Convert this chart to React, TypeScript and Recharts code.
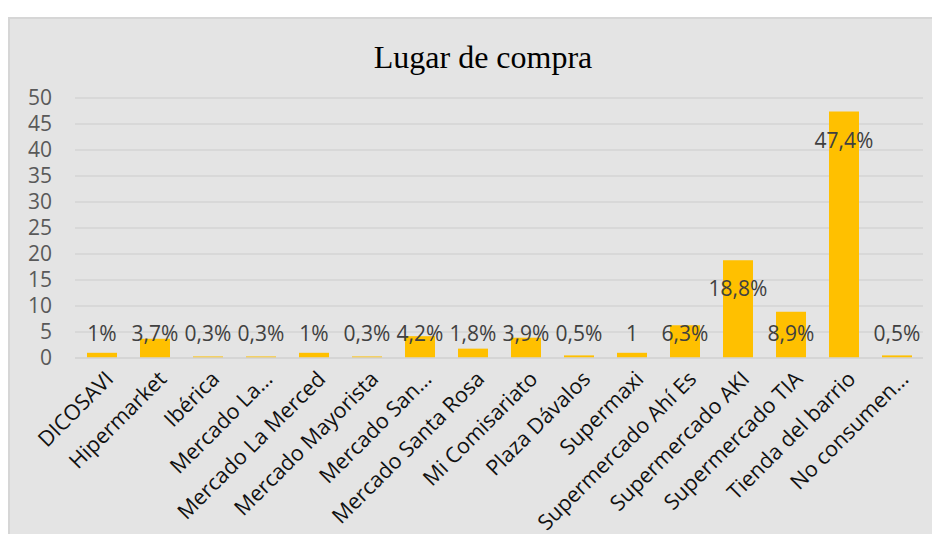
import React from "react";
import { BarChart, Bar, XAxis, YAxis, CartesianGrid, LabelList } from "recharts";

const categories = [
  "DICOSAVI",
  "Hipermarket",
  "Ibérica",
  "Mercado La…",
  "Mercado La Merced",
  "Mercado Mayorista",
  "Mercado San…",
  "Mercado Santa Rosa",
  "Mi Comisariato",
  "Plaza Dávalos",
  "Supermaxi",
  "Supermercado Ahí Es",
  "Supermercado AKI",
  "Supermercado TIA",
  "Tienda del barrio",
  "No consumen…",
];
const values = [1, 3.7, 0.3, 0.3, 1, 0.3, 4.2, 1.8, 3.9, 0.5, 1, 6.3, 18.8, 8.9, 47.4, 0.5];
const valueLabels = ["1%", "3,7%", "0,3%", "0,3%", "1%", "0,3%", "4,2%", "1,8%", "3,9%", "0,5%", "1", "6,3%", "18,8%", "8,9%", "47,4%", "0,5%"];
const yTicks = [0, 5, 10, 15, 20, 25, 30, 35, 40, 45, 50];

const data = categories.map((name, i) => ({ name, value: values[i], label: valueLabels[i] }));

const FONT = "'Open Sans', 'Noto Sans', sans-serif";

const CategoryTick = (props: any) => {
  const { x, y, payload } = props;
  return (
    <g transform={`translate(${x + 8},${y + 17})`}>
      <text
        transform="rotate(-45)"
        textAnchor="end"
        dy="0.35em"
        fontFamily={FONT}
        fontSize={21.5}
        fill="#111111"
      >
        {payload.value}
      </text>
    </g>
  );
};

const ValueLabel = (props: any) => {
  const { x, y, width, height, index } = props;
  const ly = Math.min(y + 28, y + height - 25);
  return (
    <text
      x={x + width / 2}
      y={ly}
      textAnchor="middle"
      dominantBaseline="central"
      fontFamily={FONT}
      fontSize={21}
      fill="#404040"
    >
      {valueLabels[index]}
    </text>
  );
};

export default function App() {
  return (
    <div style={{ paddingTop: 9 }}>
      <div
        style={{
          position: "relative",
          width: 931,
          height: 516,
          background: "#E4E4E4",
          borderTop: "2px solid #D6D6D6",
          borderLeft: "2px solid #D6D6D6",
        }}
      >
        <div
          style={{
            position: "absolute",
            left: 0,
            top: 20,
            width: 946,
            textAlign: "center",
            fontFamily: "'Liberation Serif', 'Times New Roman', serif",
            fontSize: 32,
            color: "#000",
            lineHeight: "36px",
          }}
        >
          Lugar de compra
        </div>
        <BarChart
          width={931}
          height={516}
          data={data}
          margin={{ top: 79, right: 18, left: 0, bottom: 0 }}
          barSize={30}
        >
          <CartesianGrid vertical={false} stroke="#D4D4D4" strokeWidth={1.5} />
          <YAxis
            width={65}
            domain={[0, 50]}
            ticks={yTicks}
            interval={0}
            tickLine={false}
            axisLine={false}
            tickSize={0}
            tickMargin={23}
            tick={{ fontFamily: FONT, fontSize: 21, fill: "#595959" }}
          />
          <XAxis
            dataKey="name"
            interval={0}
            height={177}
            tickLine={false}
            tickSize={0}
            tickMargin={0}
            axisLine={{ stroke: "#D4D4D4", strokeWidth: 1.5 }}
            tick={<CategoryTick />}
          />
          <Bar dataKey="value" fill="#FFC000" isAnimationActive={false}>
            <LabelList dataKey="label" content={<ValueLabel />} />
          </Bar>
        </BarChart>
      </div>
    </div>
  );
}
